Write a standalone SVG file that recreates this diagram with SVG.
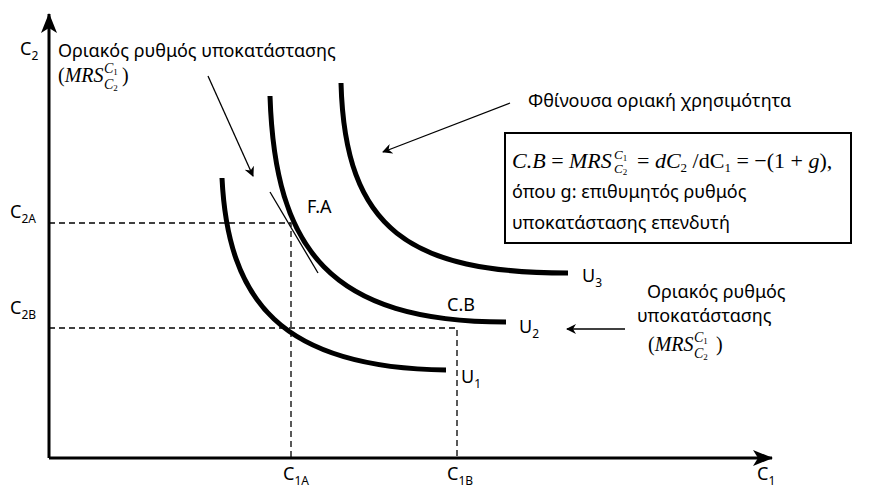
<svg xmlns="http://www.w3.org/2000/svg" width="877" height="492" viewBox="0 0 877 492">
<defs>
<style>
.t{font-family:"Noto Sans","Open Sans","DejaVu Sans",sans-serif;font-size:18px;fill:#000}
.m{font-family:"Liberation Serif","Times New Roman",serif;fill:#000}
.curve{fill:none;stroke:#000;stroke-width:5}
.dash{fill:none;stroke:#000;stroke-width:1.3;stroke-dasharray:6,4}
.ax{fill:none;stroke:#000;stroke-width:3}
.thin{fill:none;stroke:#000;stroke-width:1.3}
</style>
<marker id="ah" markerWidth="10" markerHeight="10" refX="9" refY="5" orient="auto" markerUnits="userSpaceOnUse" viewBox="0 0 10 10">
<path d="M0,0 L10,5 L0,10 L3,5 Z" fill="#000"/>
</marker>
<marker id="big" markerWidth="20" markerHeight="16" refX="19" refY="8" orient="auto" markerUnits="userSpaceOnUse" viewBox="0 0 20 16">
<path d="M0,0 L20,8 L0,16 L5,8 Z" fill="#000"/>
</marker>
</defs>

<g id="axes">
<line class="ax" x1="49" y1="458" x2="49" y2="14" marker-end="url(#big)"/>
<line class="ax" x1="49" y1="458" x2="772" y2="458" marker-end="url(#big)"/>
<text class="t" x="20" y="55" font-size="20">C<tspan font-size="12" dy="5">2</tspan></text>
<text class="t" x="757" y="480" font-size="20">C<tspan font-size="12" dy="5">1</tspan></text>
</g>

<g id="guides">
<polyline class="dash" points="49,223 291,223 291,458"/>
<polyline class="dash" points="49,328 457,328 457,458"/>
<text class="t" x="10" y="218" font-size="20">C<tspan font-size="12" dy="5">2A</tspan></text>
<text class="t" x="10" y="314" font-size="20">C<tspan font-size="12" dy="5">2B</tspan></text>
<text class="t" x="283" y="480" font-size="20">C<tspan font-size="12" dy="5">1A</tspan></text>
<text class="t" x="447" y="480" font-size="20">C<tspan font-size="12" dy="5">1B</tspan></text>
</g>

<g id="U1">
<path class="curve" d="M222,178 C228,300 280,368 446,370"/>
<text class="t" x="461" y="383" font-size="20">U<tspan font-size="12" dy="5">1</tspan></text>
</g>
<g id="U2">
<path class="curve" d="M270,96 C275,250 330,322 506,322"/>
<text class="t" x="519" y="333" font-size="20">U<tspan font-size="12" dy="5">2</tspan></text>
<text class="t" x="447" y="311" font-size="19">C.B</text>
</g>
<g id="U3">
<path class="curve" d="M341,83 C345,230 410,273 568,273"/>
<text class="t" x="582" y="282" font-size="20">U<tspan font-size="12" dy="5">3</tspan></text>
</g>

<g id="FA">
<line class="thin" x1="270" y1="192" x2="318" y2="273"/>
<text class="t" x="307" y="213" font-size="19">F.A</text>
</g>

<g id="connectors">
<line class="thin" x1="208" y1="76" x2="253" y2="176" marker-end="url(#ah)"/>
<line class="thin" x1="510" y1="103" x2="383" y2="152" marker-end="url(#ah)"/>
<line class="thin" x1="625" y1="329" x2="567" y2="329" marker-end="url(#ah)"/>
</g>

<g id="label-topleft">
<text class="t" x="58" y="57" font-size="19">Οριακός ρυθμός υποκατάστασης</text>
<text class="m" x="58" y="82" font-size="20">(<tspan font-style="italic">MRS</tspan></text>
<text class="m" x="104" y="73" font-size="14" font-style="italic">C<tspan font-style="normal" font-size="9" dy="2">1</tspan></text>
<text class="m" x="104" y="89" font-size="14" font-style="italic">C<tspan font-style="normal" font-size="9" dy="2">2</tspan></text>
<text class="m" x="122" y="82" font-size="20">)</text>
</g>

<g id="label-decreasing">
<text class="t" x="528" y="107">Φθίνουσα οριακή χρησιμότητα</text>
</g>

<g id="label-right">
<text class="t" x="647" y="298">Οριακός ρυθμός</text>
<text class="t" x="637" y="322">υποκατάστασης</text>
<text class="m" x="648" y="351" font-size="20">(<tspan font-style="italic">MRS</tspan></text>
<text class="m" x="694" y="342" font-size="14" font-style="italic">C<tspan font-style="normal" font-size="9" dy="2">1</tspan></text>
<text class="m" x="694" y="358" font-size="14" font-style="italic">C<tspan font-style="normal" font-size="9" dy="2">2</tspan></text>
<text class="m" x="716" y="351" font-size="20">)</text>
</g>

<g id="box">
<rect x="505" y="133" width="346" height="110" fill="#fff" stroke="#000" stroke-width="2"/>
<text class="m" x="512" y="168" font-size="22"><tspan font-style="italic">C.B</tspan> = <tspan font-style="italic">MRS</tspan></text>
<text class="m" x="614" y="159" font-size="13" font-style="italic">C<tspan font-style="normal" font-size="9" dy="2">1</tspan></text>
<text class="m" x="614" y="173" font-size="13" font-style="italic">C<tspan font-style="normal" font-size="9" dy="2">2</tspan></text>
<text class="m" x="637" y="168" font-size="22">= <tspan font-style="italic">dC</tspan><tspan font-size="13" dy="4">2</tspan><tspan dy="-4"> /dC</tspan><tspan font-size="13" dy="4">1</tspan><tspan dy="-4"> = −(1 + </tspan><tspan font-style="italic">g</tspan>),</text>
<text class="t" x="512" y="198">όπου g: επιθυμητός ρυθμός</text>
<text class="t" x="512" y="229">υποκατάστασης επενδυτή</text>
</g>
</svg>
